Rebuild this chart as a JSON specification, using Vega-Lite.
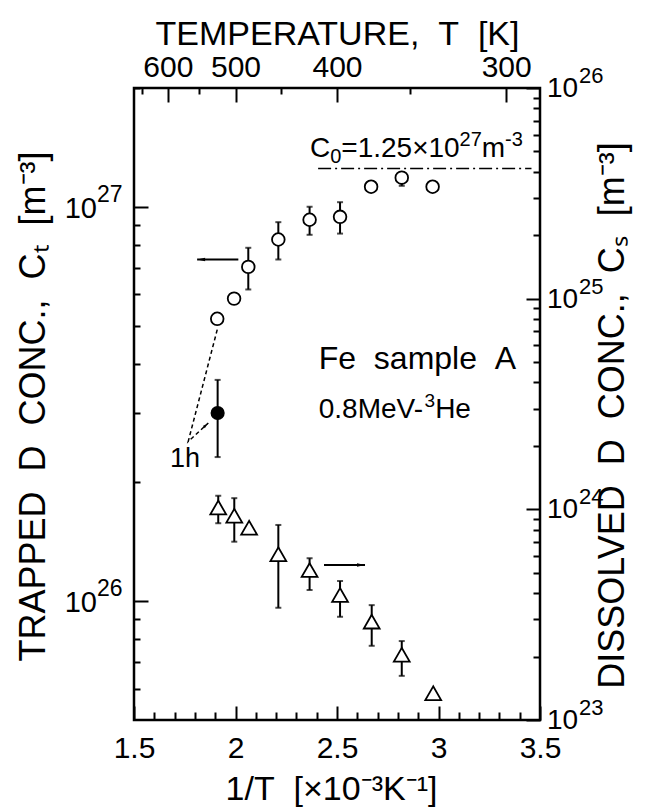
{
 "$schema": "https://vega.github.io/schema/vega-lite/v6.json",
 "width": 406, "height": 632,
 "autosize": "none",
 "padding": {"left": 134, "top": 88, "right": 107, "bottom": 87},
 "background": "white",
 "config": {
  "view": {"stroke": "black", "strokeWidth": 2.5},
  "axis": {"domain": false, "grid": false, "tickColor": "black", "tickWidth": 2, "labelColor": "black", "titleColor": "black", "labelFont": "Liberation Sans", "titleFont": "Liberation Sans", "titleFontWeight": "normal"},
  "text": {"font": "Liberation Sans", "color": "black"}
 },
 "datasets": {
  "trapped": [
   {"x": 1.910, "ct": 5.20e26},
   {"x": 1.993, "ct": 5.85e26},
   {"x": 2.063, "ct": 7.04e26, "lo": 6.17e26, "hi": 7.87e26},
   {"x": 2.211, "ct": 8.26e26, "lo": 7.35e26, "hi": 9.14e26},
   {"x": 2.365, "ct": 9.27e26, "lo": 8.49e26, "hi": 1.0e27},
   {"x": 2.515, "ct": 9.43e26, "lo": 8.55e26, "hi": 1.027e27},
   {"x": 2.668, "ct": 1.124e27},
   {"x": 2.819, "ct": 1.185e27, "lo": 1.13e27, "hi": 1.2e27},
   {"x": 2.971, "ct": 1.124e27}
  ],
  "filledPt": [{"x": 1.912, "ct": 3.0e26, "lo": 2.32e26, "hi": 3.64e26}],
  "dissolved": [
   {"x": 1.915, "cs": 1.02e24, "lo": 8.59e23, "hi": 1.16e24},
   {"x": 1.994, "cs": 9.33e23, "lo": 7.02e23, "hi": 1.13e24},
   {"x": 2.067, "cs": 8.18e23},
   {"x": 2.211, "cs": 6.12e23, "lo": 3.41e23, "hi": 8.43e23},
   {"x": 2.365, "cs": 5.15e23, "lo": 4.14e23, "hi": 5.86e23},
   {"x": 2.515, "cs": 3.92e23, "lo": 3.09e23, "hi": 4.57e23},
   {"x": 2.671, "cs": 2.93e23, "lo": 2.25e23, "hi": 3.51e23},
   {"x": 2.819, "cs": 2.04e23, "lo": 1.62e23, "hi": 2.37e23},
   {"x": 2.974, "cs": 1.34e23}
  ],
  "arrowL": [{"x1": 1.811, "x2": 2.014, "y": 7.35e26}],
  "arrowR": [{"x1": 2.436, "x2": 2.638, "y": 5.44e23}],
  "c0line": [{"x1": 2.407, "x2": 3.458, "y": 1.25e27}],
  "dash": [{"x": 1.910, "y": 4.88e26, "o": 1}, {"x": 1.767, "y": 2.54e26, "o": 2}, {"x": 1.866, "y": 2.83e26, "o": 3}],
  "leftExp": [{"v": 1e26, "e": "26"}, {"v": 1e27, "e": "27"}],
  "rightExp": [{"v": 1e23, "e": "23"}, {"v": 1e24, "e": "24"}, {"v": 1e25, "e": "25"}, {"v": 1e26, "e": "26"}]
 },
 "layer": [
  {
   "layer": [
    {
     "data": {"name": "trapped"}, "transform": [{"filter": "datum.lo != null"}],
     "mark": {"type": "rule", "strokeWidth": 2, "color": "black"},
     "encoding": {
      "x": {"field": "x", "type": "quantitative", "scale": {"domain": [1.5, 3.5], "nice": false, "zero": false},
       "axis": {"orient": "bottom", "values": [1.5, 2, 2.5, 3, 3.5], "format": "~g", "tickSize": -14, "labelFontSize": 30, "labelPadding": 27, "labelFlush": false, "labelOverlap": false,
        "title": "1/T\u00a0\u00a0[×10⁻³K⁻¹]", "titleFontSize": 34, "titleX": 197, "titleY": 79, "titleAlign": "center", "titleBaseline": "alphabetic"}},
      "y": {"field": "lo", "type": "quantitative", "scale": {"type": "log", "domain": [5e25, 2e27], "nice": false},
       "axis": {"orient": "left", "values": [1e26, 1e27], "tickSize": -14, "labels": false,
        "title": "TRAPPED\u00a0\u00a0D\u00a0\u00a0CONC.,\u00a0\u00a0Cₜ\u00a0\u00a0[m⁻³]", "titleFontSize": 36, "titleAngle": 270, "titleX": -101, "titleY": 318, "titleAlign": "center", "titleBaseline": "middle"}},
      "y2": {"field": "hi"}
     }
    },
    {
     "data": {"name": "trapped"}, "transform": [{"filter": "datum.lo != null"}],
     "mark": {"type": "tick", "orient": "horizontal", "size": 6, "thickness": 2, "color": "black"},
     "encoding": {
      "x": {"field": "x", "type": "quantitative", "scale": {"domain": [1.5, 3.5], "nice": false, "zero": false},
       "axis": {"orient": "bottom", "values": [1.6, 1.7, 1.8, 1.9, 2.1, 2.2, 2.3, 2.4, 2.6, 2.7, 2.8, 2.9, 3.1, 3.2, 3.3, 3.4], "tickSize": -8, "labels": false, "title": null}},
      "y": {"field": "lo", "type": "quantitative", "scale": {"type": "log", "domain": [5e25, 2e27], "nice": false},
       "axis": {"orient": "left", "values": [6e25, 7e25, 8e25, 9e25, 2e26, 3e26, 4e26, 5e26, 6e26, 7e26, 8e26, 9e26, 2e27], "tickSize": -6, "labels": false, "title": null}}
     }
    },
    {
     "data": {"name": "trapped"}, "transform": [{"filter": "datum.lo != null"}],
     "mark": {"type": "tick", "orient": "horizontal", "size": 6, "thickness": 2, "color": "black"},
     "encoding": {
      "x": {"field": "x", "type": "quantitative", "scale": {"domain": [1.5, 3.5], "nice": false, "zero": false},
       "axis": {"orient": "top", "values": [1.666667, 2, 2.5, 3.333333], "labelExpr": "format(1000/datum.value, '.0f')", "tickSize": -14, "labelFontSize": 30, "labelPadding": 20, "labelFlush": false, "labelOverlap": false,
        "title": "TEMPERATURE,\u00a0\u00a0T\u00a0\u00a0[K]", "titleFontSize": 34, "titleX": 203, "titleY": -44, "titleAlign": "center", "titleBaseline": "alphabetic"}},
      "y": {"field": "hi", "type": "quantitative", "scale": {"type": "log", "domain": [5e25, 2e27], "nice": false}, "axis": null}
     }
    },
    {
     "data": {"name": "trapped"},
     "mark": {"type": "point", "shape": "circle", "size": 160, "filled": true, "fill": "white", "stroke": "black", "strokeWidth": 1.8, "opacity": 1},
     "encoding": {
      "x": {"field": "x", "type": "quantitative", "scale": {"domain": [1.5, 3.5], "nice": false, "zero": false},
       "axis": {"orient": "top", "values": [1.538462, 1.818182, 2.222222, 2.857143], "tickSize": -6, "labels": false, "title": null}},
      "y": {"field": "ct", "type": "quantitative", "scale": {"type": "log", "domain": [5e25, 2e27], "nice": false}, "axis": null}
     }
    },
    {
     "data": {"name": "filledPt"},
     "encoding": {
      "x": {"field": "x", "type": "quantitative", "scale": {"domain": [1.5, 3.5], "nice": false, "zero": false}, "axis": null}
     },
     "layer": [
      {"mark": {"type": "rule", "strokeWidth": 2, "color": "black"},
       "encoding": {"y": {"field": "lo", "type": "quantitative", "scale": {"type": "log", "domain": [5e25, 2e27], "nice": false}, "axis": null}, "y2": {"field": "hi"}}},
      {"mark": {"type": "tick", "orient": "horizontal", "size": 6, "thickness": 2, "color": "black"},
       "encoding": {"y": {"field": "lo", "type": "quantitative", "scale": {"type": "log", "domain": [5e25, 2e27], "nice": false}, "axis": null}}},
      {"mark": {"type": "tick", "orient": "horizontal", "size": 6, "thickness": 2, "color": "black"},
       "encoding": {"y": {"field": "hi", "type": "quantitative", "scale": {"type": "log", "domain": [5e25, 2e27], "nice": false}, "axis": null}}},
      {"mark": {"type": "point", "shape": "circle", "size": 160, "filled": true, "fill": "black", "stroke": "black", "strokeWidth": 1.5, "opacity": 1},
       "encoding": {"y": {"field": "ct", "type": "quantitative", "scale": {"type": "log", "domain": [5e25, 2e27], "nice": false}, "axis": null}}}
     ]
    },
    {
     "data": {"name": "arrowL"},
     "encoding": {
      "y": {"field": "y", "type": "quantitative", "scale": {"type": "log", "domain": [5e25, 2e27], "nice": false}, "axis": null}
     },
     "layer": [
      {"mark": {"type": "rule", "strokeWidth": 2, "color": "black"},
       "encoding": {"x": {"field": "x1", "type": "quantitative", "scale": {"domain": [1.5, 3.5], "nice": false, "zero": false}, "axis": null}, "x2": {"field": "x2"}}},
      {"mark": {"type": "point", "shape": "M0,0L2,-0.45L2,0.45Z", "size": 64, "filled": true, "color": "black", "opacity": 1},
       "encoding": {"x": {"field": "x1", "type": "quantitative", "scale": {"domain": [1.5, 3.5], "nice": false, "zero": false}, "axis": null}}}
     ]
    },
    {
     "data": {"name": "c0line"},
     "mark": {"type": "rule", "strokeWidth": 1.5, "color": "black", "strokeDash": [13, 4, 2, 4]},
     "encoding": {
      "x": {"field": "x1", "type": "quantitative", "scale": {"domain": [1.5, 3.5], "nice": false, "zero": false}, "axis": null},
      "x2": {"field": "x2"},
      "y": {"field": "y", "type": "quantitative", "scale": {"type": "log", "domain": [5e25, 2e27], "nice": false}, "axis": null}
     }
    },
    {
     "data": {"name": "dash"},
     "encoding": {
      "x": {"field": "x", "type": "quantitative", "scale": {"domain": [1.5, 3.5], "nice": false, "zero": false}, "axis": null},
      "y": {"field": "y", "type": "quantitative", "scale": {"type": "log", "domain": [5e25, 2e27], "nice": false}, "axis": null}
     },
     "layer": [
      {"mark": {"type": "line", "strokeWidth": 1.5, "color": "black", "strokeDash": [4, 3]},
       "encoding": {"order": {"field": "o", "type": "quantitative"}}},
      {"transform": [{"filter": "datum.o == 3"}],
       "mark": {"type": "point", "shape": "M0,0L-2,-0.5L-2,0.5Z", "size": 36, "angle": 318, "filled": true, "color": "black", "opacity": 1},
       "encoding": {}}
     ]
    },
    {
     "data": {"name": "leftExp"},
     "encoding": {
      "x": {"datum": 1.5, "type": "quantitative", "scale": {"domain": [1.5, 3.5], "nice": false, "zero": false}, "axis": null},
      "y": {"field": "v", "type": "quantitative", "scale": {"type": "log", "domain": [5e25, 2e27], "nice": false}, "axis": null}
     },
     "layer": [
      {"mark": {"type": "text", "text": "10", "align": "right", "baseline": "middle", "dx": -37, "dy": 2, "fontSize": 29}},
      {"mark": {"type": "text", "align": "left", "baseline": "middle", "dx": -37, "dy": -12, "fontSize": 23},
       "encoding": {"text": {"field": "e"}}}
     ]
    },
    {
     "data": {"values": [{}]},
     "encoding": {
      "x": {"datum": 2.367, "type": "quantitative", "scale": {"domain": [1.5, 3.5], "nice": false, "zero": false}, "axis": null},
      "y": {"datum": 1.334e27, "type": "quantitative", "scale": {"type": "log", "domain": [5e25, 2e27], "nice": false}, "axis": null}
     },
     "layer": [
      {"mark": {"type": "text", "text": "C", "align": "left", "baseline": "alphabetic", "fontSize": 28}},
      {"mark": {"type": "text", "text": "0", "align": "left", "baseline": "alphabetic", "fontSize": 20, "dx": 20.2, "dy": 6}},
      {"mark": {"type": "text", "text": "=1.25×10", "align": "left", "baseline": "alphabetic", "fontSize": 28, "dx": 31.3}},
      {"mark": {"type": "text", "text": "27", "align": "left", "baseline": "alphabetic", "fontSize": 20, "dx": 149.6, "dy": -11}},
      {"mark": {"type": "text", "text": "m", "align": "left", "baseline": "alphabetic", "fontSize": 28, "dx": 171.8}},
      {"mark": {"type": "text", "text": "-3", "align": "left", "baseline": "alphabetic", "fontSize": 20, "dx": 195.1, "dy": -11}}
     ]
    },
    {
     "data": {"values": [{}]},
     "encoding": {
      "x": {"datum": 2.41, "type": "quantitative", "scale": {"domain": [1.5, 3.5], "nice": false, "zero": false}, "axis": null},
      "y": {"datum": 3.87e26, "type": "quantitative", "scale": {"type": "log", "domain": [5e25, 2e27], "nice": false}, "axis": null}
     },
     "mark": {"type": "text", "text": "Fe\u00a0\u00a0sample\u00a0\u00a0A", "align": "left", "baseline": "alphabetic", "fontSize": 32}
    },
    {
     "data": {"values": [{}]},
     "encoding": {
      "x": {"datum": 2.41, "type": "quantitative", "scale": {"domain": [1.5, 3.5], "nice": false, "zero": false}, "axis": null},
      "y": {"datum": 2.92e26, "type": "quantitative", "scale": {"type": "log", "domain": [5e25, 2e27], "nice": false}, "axis": null}
     },
     "layer": [
      {"mark": {"type": "text", "text": "0.8MeV-", "align": "left", "baseline": "alphabetic", "fontSize": 28}},
      {"mark": {"type": "text", "text": "3", "align": "left", "baseline": "alphabetic", "fontSize": 19, "dx": 105.8, "dy": -11}},
      {"mark": {"type": "text", "text": "He", "align": "left", "baseline": "alphabetic", "fontSize": 28, "dx": 116.4}}
     ]
    },
    {
     "data": {"values": [{}]},
     "encoding": {
      "x": {"datum": 1.751, "type": "quantitative", "scale": {"domain": [1.5, 3.5], "nice": false, "zero": false}, "axis": null},
      "y": {"datum": 2.19e26, "type": "quantitative", "scale": {"type": "log", "domain": [5e25, 2e27], "nice": false}, "axis": null}
     },
     "mark": {"type": "text", "text": "1h", "align": "center", "baseline": "alphabetic", "fontSize": 27}
    }
   ],
   "resolve": {"axis": {"x": "independent", "y": "independent"}}
  },
  {
   "layer": [
    {
     "data": {"name": "dissolved"}, "transform": [{"filter": "datum.lo != null"}],
     "mark": {"type": "rule", "strokeWidth": 2, "color": "black"},
     "encoding": {
      "x": {"field": "x", "type": "quantitative", "scale": {"domain": [1.5, 3.5], "nice": false, "zero": false}, "axis": null},
      "y": {"field": "lo", "type": "quantitative", "scale": {"type": "log", "domain": [1e23, 1e26], "nice": false},
       "axis": {"orient": "right", "values": [1e23, 1e24, 1e25, 1e26], "tickSize": -14, "labels": false,
        "title": "DISSOLVED\u00a0\u00a0D\u00a0\u00a0CONC.,\u00a0\u00a0Cₛ\u00a0\u00a0[m⁻³]", "titleFontSize": 36, "titleAngle": 270, "titleX": 72, "titleY": 327, "titleAlign": "center", "titleBaseline": "middle"}},
      "y2": {"field": "hi"}
     }
    },
    {
     "data": {"name": "dissolved"}, "transform": [{"filter": "datum.lo != null"}],
     "mark": {"type": "tick", "orient": "horizontal", "size": 6, "thickness": 2, "color": "black"},
     "encoding": {
      "x": {"field": "x", "type": "quantitative", "scale": {"domain": [1.5, 3.5], "nice": false, "zero": false}, "axis": null},
      "y": {"field": "lo", "type": "quantitative", "scale": {"type": "log", "domain": [1e23, 1e26], "nice": false},
       "axis": {"orient": "right", "values": [2e23, 3e23, 4e23, 5e23, 6e23, 7e23, 8e23, 9e23, 2e24, 3e24, 4e24, 5e24, 6e24, 7e24, 8e24, 9e24, 2e25, 3e25, 4e25, 5e25, 6e25, 7e25, 8e25, 9e25], "tickSize": -7, "labels": false, "title": null}}
     }
    },
    {
     "data": {"name": "dissolved"}, "transform": [{"filter": "datum.lo != null"}],
     "mark": {"type": "tick", "orient": "horizontal", "size": 6, "thickness": 2, "color": "black"},
     "encoding": {
      "x": {"field": "x", "type": "quantitative", "scale": {"domain": [1.5, 3.5], "nice": false, "zero": false}, "axis": null},
      "y": {"field": "hi", "type": "quantitative", "scale": {"type": "log", "domain": [1e23, 1e26], "nice": false}, "axis": null}
     }
    },
    {
     "data": {"name": "dissolved"},
     "mark": {"type": "point", "shape": "triangle-up", "size": 250, "filled": true, "fill": "white", "stroke": "black", "strokeWidth": 1.8, "opacity": 1},
     "encoding": {
      "x": {"field": "x", "type": "quantitative", "scale": {"domain": [1.5, 3.5], "nice": false, "zero": false}, "axis": null},
      "y": {"field": "cs", "type": "quantitative", "scale": {"type": "log", "domain": [1e23, 1e26], "nice": false}, "axis": null}
     }
    },
    {
     "data": {"name": "arrowR"},
     "encoding": {
      "y": {"field": "y", "type": "quantitative", "scale": {"type": "log", "domain": [1e23, 1e26], "nice": false}, "axis": null}
     },
     "layer": [
      {"mark": {"type": "rule", "strokeWidth": 2, "color": "black"},
       "encoding": {"x": {"field": "x1", "type": "quantitative", "scale": {"domain": [1.5, 3.5], "nice": false, "zero": false}, "axis": null}, "x2": {"field": "x2"}}},
      {"mark": {"type": "point", "shape": "M0,0L-2,-0.45L-2,0.45Z", "size": 64, "filled": true, "color": "black", "opacity": 1},
       "encoding": {"x": {"field": "x2", "type": "quantitative", "scale": {"domain": [1.5, 3.5], "nice": false, "zero": false}, "axis": null}}}
     ]
    },
    {
     "data": {"name": "rightExp"},
     "encoding": {
      "x": {"datum": 3.5, "type": "quantitative", "scale": {"domain": [1.5, 3.5], "nice": false, "zero": false}, "axis": null},
      "y": {"field": "v", "type": "quantitative", "scale": {"type": "log", "domain": [1e23, 1e26], "nice": false}, "axis": null}
     },
     "layer": [
      {"mark": {"type": "text", "text": "10", "align": "left", "baseline": "middle", "dx": 7, "dy": 1, "fontSize": 28}},
      {"mark": {"type": "text", "align": "left", "baseline": "middle", "dx": 39, "dy": -12, "fontSize": 22},
       "encoding": {"text": {"field": "e"}}}
     ]
    }
   ],
   "resolve": {"axis": {"y": "independent"}}
  }
 ],
 "resolve": {"scale": {"y": "independent"}, "axis": {"x": "independent", "y": "independent"}}
}
